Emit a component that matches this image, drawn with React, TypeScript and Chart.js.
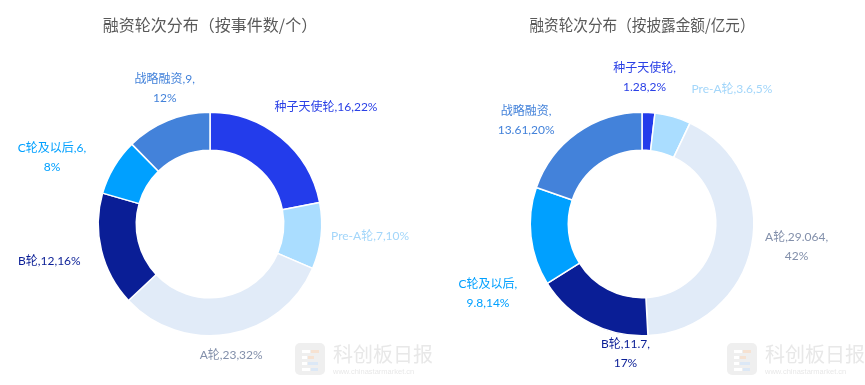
import React, { useEffect, useRef } from "react";
import { Chart, registerables } from "chart.js";
Chart.register(...registerables);

const categories = ["种子天使轮", "Pre-A轮", "A轮", "B轮", "C轮及以后", "战略融资"];
const countValues = [16, 7, 23, 12, 6, 9];
const amountValues = [1.28, 3.6, 29.064, 11.7, 9.8, 13.61];
const countTitle = "融资轮次分布（按事件数/个）";
const amountTitle = "融资轮次分布（按披露金额/亿元）";
const segmentColors = ["#233CEB", "#AADDFF", "#E1EBF8", "#0A1E96", "#00A0FF", "#4382DA"];
const labelColors = ["#2A40E6", "#A3D6FA", "#8390AB", "#0A1E96", "#00A0FF", "#4382DA"];
// label wrapping: 0 = one line, 1 = break after name, 2 = break after value
const countBreaks = [0, 0, 0, 0, 2, 2];
const amountBreaks = [1, 0, 2, 2, 1, 1];
// label nudges from the arc's outer mid point
const countOffsets = [[45, -31], [49, 0], [2, 21], [-52, 11], [-62, -9], [-3, -32]];
const amountOffsets = [[-4, -35], [59, -27], [45, 1], [35, 30], [-43, 57], [-51, -12]];

const LABEL_FONT = '12px Lato, "Noto Sans CJK SC", sans-serif';

const outerLabels = {
  id: "outerLabels",
  afterDraw(chart: any) {
    const opts = chart.options.plugins.outerLabels;
    const ctx = chart.ctx;
    const meta = chart.getDatasetMeta(0);
    const data: number[] = chart.data.datasets[0].data;
    const total = data.reduce((a, b) => a + b, 0);
    ctx.save();
    ctx.font = LABEL_FONT;
    ctx.textAlign = "center";
    ctx.textBaseline = "middle";
    meta.data.forEach((arc: any, i: number) => {
      const p = arc.getProps(["x", "y", "startAngle", "endAngle", "outerRadius"], true);
      const mid = (p.startAngle + p.endAngle) / 2;
      const ax = p.x + Math.cos(mid) * p.outerRadius;
      const ay = p.y + Math.sin(mid) * p.outerRadius;
      const [dx, dy] = opts.offsets[i];
      const name = categories[i];
      const val = String(data[i]);
      const pct = Math.round((data[i] / total) * 100) + "%";
      let lines: string[];
      const br = opts.breaks[i];
      if (br === 1) lines = [name + ",", val + "," + pct];
      else if (br === 2) lines = [name + "," + val + ",", pct];
      else lines = [name + "," + val + "," + pct];
      ctx.fillStyle = labelColors[i];
      const lh = 19;
      lines.forEach((t, k) => {
        ctx.fillText(t, ax + dx, ay + dy + (k - (lines.length - 1) / 2) * lh);
      });
    });
    // watermark
    const wx = 295, wy = 343;
    ctx.fillStyle = "#EFEFEF";
    ctx.beginPath();
    (ctx as any).roundRect(wx, wy, 30, 32, 5);
    ctx.fill();
    ctx.fillStyle = "#FFFFFF";
    ctx.fillRect(wx + 7, wy + 7, 8, 3);
    ctx.fillRect(wx + 7, wy + 13, 5, 3);
    ctx.fillRect(wx + 7, wy + 19, 5, 3);
    ctx.fillRect(wx + 7, wy + 25, 8, 3);
    ctx.fillStyle = "#F6E2D2";
    ctx.fillRect(wx + 16, wy + 7, 8, 3);
    ctx.fillRect(wx + 13, wy + 13, 6, 3);
    ctx.fillStyle = "#DCE8F6";
    ctx.fillRect(wx + 13, wy + 19, 10, 3);
    ctx.fillRect(wx + 16, wy + 25, 7, 3);
    ctx.fillStyle = "#E8E8E8";
    ctx.textAlign = "left";
    ctx.font = '20px "Noto Sans CJK SC", sans-serif';
    ctx.fillText("科创板日报", 333, 354);
    ctx.fillStyle = "#E8E8E8";
    ctx.font = '7.5px "Liberation Sans", Arial, sans-serif';
    ctx.fillText("www.chinastarmarket.cn", 333, 372);
    ctx.restore();
  },
};

function Donut(props: { title: string; values: number[]; breaks: number[]; offsets: number[][]; left: number; width: number }) {
  const ref = useRef<HTMLCanvasElement>(null);
  useEffect(() => {
    const chart = new Chart(ref.current as HTMLCanvasElement, {
      type: "doughnut",
      data: {
        labels: categories,
        datasets: [
          {
            data: props.values,
            backgroundColor: segmentColors,
            borderColor: "#FFFFFF",
            borderWidth: 1.5,
          },
        ],
      },
      options: {
        responsive: false,
        animation: false,
        devicePixelRatio: 1,
        cutout: "66%",
        layout: { padding: { left: 97.5, right: props.width - 322.5, top: 0, bottom: 48.5 } },
        plugins: {
          legend: { display: false },
          tooltip: { enabled: false },
          title: {
            display: true,
            text: props.title,
            color: "#595959",
            font: { size: 16, family: '"Noto Sans CJK SC", sans-serif', weight: "normal" },
            padding: { top: 15.5, bottom: 76.8 },
          },
          outerLabels: { breaks: props.breaks, offsets: props.offsets },
        } as any,
      },
      plugins: [outerLabels as any],
    });
    return () => chart.destroy();
  }, []);
  return (
    <canvas
      ref={ref}
      width={props.width}
      height={385}
      style={{ position: "absolute", left: props.left, top: 0, width: props.width, height: 385 }}
    />
  );
}

export default function App() {
  return (
    <div style={{ position: "absolute", left: 0, top: 0, width: 865, height: 385, background: "#FFFFFF" }}>
      <Donut title={countTitle} values={countValues} breaks={countBreaks} offsets={countOffsets} left={0} width={432} />
      <Donut title={amountTitle} values={amountValues} breaks={amountBreaks} offsets={amountOffsets} left={432} width={433} />
    </div>
  );
}
